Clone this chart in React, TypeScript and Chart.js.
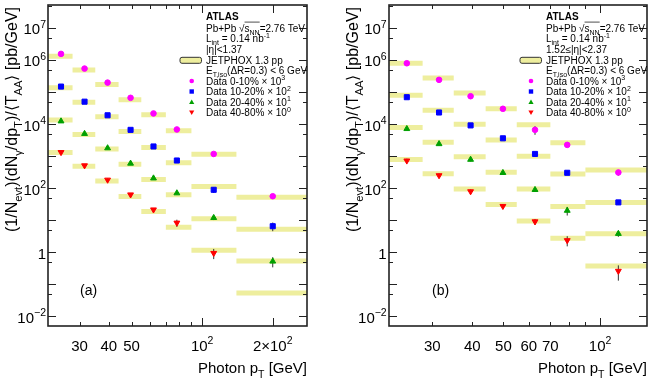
import React, { useEffect, useRef } from "react";
import { Chart, registerables } from "chart.js";
Chart.register(...registerables);

// ---------- Panel (a): |eta| < 1.37 ----------
const edgesA = [22, 28, 35, 44, 55, 70, 90, 140, 280];
const ptA = [25, 31.5, 39.5, 49.5, 62, 78, 112, 200];
const dataA_0_10 = [1.55e6, 5.4e5, 1.97e5, 6.6e4, 2.15e4, 6.8e3, 1170, 56];
const dataA_10_20 = [1.48e5, 5.0e4, 1.88e4, 6.6e3, 2.0e3, 730, 89, 6.5];
const dataA_20_40 = [1.23e4, 5.0e3, 1.78e3, 590, 204, 70, 11.9, 0.52];
const dataA_40_80 = [1320, 510, 182, 63, 21.4, 8.3, 0.94, null];
const errA_0_10 = [0.06, 0.05, 0.05, 0.05, 0.05, 0.06, 0.08, 0.12];
const errA_10_20 = [0.06, 0.06, 0.06, 0.06, 0.06, 0.08, 0.2, 0.3];
const errA_20_40 = [0.08, 0.08, 0.08, 0.08, 0.1, 0.1, 0.15, 0.35];
const errA_40_80 = [0.1, 0.1, 0.1, 0.1, 0.12, 0.25, 0.35, 0];
const jetA_0_10 = [1.3e6, 4.9e5, 1.71e5, 5.7e4, 1.95e4, 6.2e3, 1150, 52];
const jetA_10_20 = [1.35e5, 4.8e4, 1.68e4, 5.9e3, 1860, 620, 112, 5.2];
const jetA_20_40 = [1.35e4, 4.7e3, 1.66e3, 560, 186, 62, 11.1, 0.53];
const jetA_40_80 = [1290, 480, 166, 55, 18.6, 6.0, 1.15, 0.054];

// ---------- Panel (b): 1.52 < |eta| < 2.37 ----------
const edgesB = [22, 28, 35, 44, 55, 70, 90, 140];
const ptB = [25, 31.5, 39.5, 49.8, 62.7, 79, 114];
const dataB_0_10 = [7.9e5, 2.4e5, 7.4e4, 3.0e4, 6.6e3, 2240, 309];
const dataB_10_20 = [6.9e4, 2.3e4, 9.1e3, 3.6e3, 1170, 302, 36];
const dataB_20_40 = [7.1e3, 2.4e3, 780, 302, 89, 20, 3.8];
const dataB_40_80 = [720, 250, 79, 27.5, 9.1, 2.35, 0.26];
const errB_0_10 = [0.1, 0.1, 0.12, 0.08, 0.3, 0.12, 0.2];
const errB_10_20 = [0.1, 0.1, 0.1, 0.08, 0.08, 0.1, 0.15];
const errB_20_40 = [0.1, 0.1, 0.12, 0.1, 0.12, 0.3, 0.2];
const errB_40_80 = [0.15, 0.15, 0.15, 0.15, 0.2, 0.35, 0.5];
const jetB_0_10 = [7.9e5, 2.75e5, 9.3e4, 3.0e4, 9.5e3, 2.6e3, 370];
const jetB_10_20 = [7.9e4, 2.7e4, 9.8e3, 3.2e3, 1.0e3, 275, 36];
const jetB_20_40 = [7.8e3, 2.7e3, 950, 316, 95, 27, 3.8];
const jetB_40_80 = [790, 280, 95, 31, 9.5, 2.75, 0.37];

// ---------- ticks ----------
const yTickValues = [1e-2, 1, 1e2, 1e4, 1e6, 1e7];
const yTickBases = ["10", "1", "10", "10", "10", "10"];
const yTickExps = ["\u22122", "", "2", "4", "6", "7"];
const yMajorTicks = [1e-2, 1e-1, 1, 1e1, 1e2, 1e3, 1e4, 1e5, 1e6, 1e7];
const yMinorTicks = [5e-3, 5e-2, 5e-1, 5, 5e1, 5e2, 5e3, 5e4, 5e5, 5e6, 5e7];

const xTickValuesA = [30, 40, 50, 100, 200];
const xTickBasesA = ["30", "40", "50", "10", "2\u00d710"];
const xTickExpsA = ["", "", "", "2", "2"];
const xMinorA = [30, 40, 50, 60, 70, 80, 90];
const xMajorA = [100, 200];

const xTickValuesB = [30, 40, 50, 60, 70, 100];
const xTickBasesB = ["30", "40", "50", "60", "70", "10"];
const xTickExpsB = ["", "", "", "", "", "2"];
const xMinorB = [30, 40, 50, 60, 70, 80, 90];
const xMajorB = [100];

const seriesNames = ["Data 0-10% \u00d7 10", "Data 10-20% \u00d7 10", "Data 20-40% \u00d7 10", "Data 40-80% \u00d7 10"];
const seriesScales = ["3", "2", "1", "0"];

const COLORS = ["#ff00ff", "#0000ff", "#00a000", "#ff0000"];
const STYLES = ["circle", "rect", "triangle", "triangle"];
const ROTS = [0, 0, 0, 180];
const RADII = [2.8, 3.6, 3.4, 3.4];
const JET_COLOR = "#eeee9e";
const FONT = '"Liberation Sans", Arial, Helvetica, sans-serif';

type Seg = { t: string; s?: "sub" | "sup"; b?: boolean; o?: boolean };

function fnt(size: number, bold = false) {
  return `${bold ? "bold " : ""}${size}px ${FONT}`;
}

function richWidth(ctx: CanvasRenderingContext2D, segs: Seg[], size: number) {
  let w = 0;
  for (const sg of segs) {
    ctx.font = fnt(sg.s ? size * 0.7 : size, sg.b);
    w += ctx.measureText(sg.t).width;
  }
  return w;
}

function drawRich(ctx: CanvasRenderingContext2D, segs: Seg[], x: number, y: number, size: number, align: "left" | "right" | "center") {
  const w = richWidth(ctx, segs, size);
  let cx = align === "left" ? x : align === "right" ? x - w : x - w / 2;
  ctx.textAlign = "left";
  ctx.textBaseline = "alphabetic";
  let oStart: number | null = null;
  for (const sg of segs) {
    const sz = sg.s ? size * 0.7 : size;
    ctx.font = fnt(sz, sg.b);
    const dy = sg.s === "sub" ? size * 0.3 : sg.s === "sup" ? -size * 0.45 : 0;
    ctx.fillText(sg.t, cx, y + dy);
    const sw = ctx.measureText(sg.t).width;
    if (sg.o && oStart === null) oStart = cx;
    if (!sg.o && oStart !== null) {
      ctx.beginPath();
      ctx.lineWidth = 0.8;
      ctx.moveTo(oStart, y - size * 0.95);
      ctx.lineTo(cx, y - size * 0.95);
      ctx.stroke();
      oStart = null;
    }
    cx += sw;
  }
}

type PanelProps = {
  left: number;
  width: number;
  pad: { left: number; right: number; top: number; bottom: number };
  xMin: number;
  xMax: number;
  edges: number[];
  pt: number[];
  data: (number | null)[][];
  err: number[][];
  jet: number[][];
  xTickValues: number[];
  xTickBases: string[];
  xTickExps: string[];
  xMinor: number[];
  xMajor: number[];
  yTitleX: number;
  yLabelRight: number;
  legendBox: number;
  legendMarkerX: number;
  legendTextX: number;
  etaText: Seg[];
  tag: string;
  tagX: number;
};

function Panel(p: PanelProps) {
  const ref = useRef<HTMLCanvasElement | null>(null);
  useEffect(() => {
    if (!ref.current) return;
    const datasets: any[] = [];
    p.data.forEach((vals, s) => {
      datasets.push({
        data: p.pt.map((x, i) => ({ x, y: vals[i] })),
        showLine: false,
        pointStyle: STYLES[s],
        rotation: ROTS[s],
        pointRadius: RADII[s],
        backgroundColor: COLORS[s],
        borderColor: COLORS[s],
        borderWidth: 1,
        order: 0,
      });
      const eb: any[] = [];
      p.pt.forEach((x, i) => {
        const v = vals[i];
        const e = p.err[s][i];
        if (v == null || !e) return;
        eb.push({ x, y: v * (1 - e) }, { x, y: v * (1 + e) }, { x, y: null });
      });
      datasets.push({ data: eb, borderColor: "#333333", borderWidth: 1, pointRadius: 0, order: 1, spanGaps: false, tension: 0 });
      const jb: any[] = [];
      p.jet[s].forEach((v, i) => {
        jb.push({ x: p.edges[i], y: v }, { x: p.edges[i + 1], y: v }, { x: p.edges[i + 1], y: null });
      });
      datasets.push({ data: jb, borderColor: JET_COLOR, borderWidth: 5, borderCapStyle: "butt", pointRadius: 0, order: 2, spanGaps: false, tension: 0 });
    });

    const deco = {
      id: "deco",
      afterDraw(chart: any) {
        const ctx: CanvasRenderingContext2D = chart.ctx;
        const xs = chart.scales.x;
        const ys = chart.scales.y;
        const a = chart.chartArea;
        ctx.save();
        ctx.strokeStyle = "#222";
        ctx.fillStyle = "#000";
        // ticks
        ctx.lineWidth = 1;
        ctx.beginPath();
        for (const v of yMajorTicks) {
          const y = Math.round(ys.getPixelForValue(v)) + 0.5;
          ctx.moveTo(a.left, y); ctx.lineTo(a.left + 8, y);
          ctx.moveTo(a.right, y); ctx.lineTo(a.right - 8, y);
        }
        for (const v of yMinorTicks) {
          const y = Math.round(ys.getPixelForValue(v)) + 0.5;
          if (y < a.top || y > a.bottom) continue;
          ctx.moveTo(a.left, y); ctx.lineTo(a.left + 4, y);
          ctx.moveTo(a.right, y); ctx.lineTo(a.right - 4, y);
        }
        for (const v of p.xMinor) {
          const x = Math.round(xs.getPixelForValue(v)) + 0.5;
          ctx.moveTo(x, a.bottom); ctx.lineTo(x, a.bottom - 4);
          ctx.moveTo(x, a.top); ctx.lineTo(x, a.top + 4);
        }
        for (const v of p.xMajor) {
          const x = Math.round(xs.getPixelForValue(v)) + 0.5;
          ctx.moveTo(x, a.bottom); ctx.lineTo(x, a.bottom - 8);
          ctx.moveTo(x, a.top); ctx.lineTo(x, a.top + 8);
        }
        ctx.stroke();
        // frame
        ctx.lineWidth = 1.6;
        ctx.strokeRect(a.left, a.top, a.right - a.left, a.bottom - a.top);

        // y tick labels
        yTickValues.forEach((v, i) => {
          const y = ys.getPixelForValue(v);
          const segs: Seg[] = [{ t: yTickBases[i] }];
          if (yTickExps[i]) segs.push({ t: yTickExps[i], s: "sup" });
          drawRich(ctx, segs, p.yLabelRight, y + 6.5, 15, "right");
        });
        // x tick labels
        p.xTickValues.forEach((v, i) => {
          const x = xs.getPixelForValue(v);
          const segs: Seg[] = [{ t: p.xTickBases[i] }];
          if (p.xTickExps[i]) segs.push({ t: p.xTickExps[i], s: "sup" });
          drawRich(ctx, segs, x, 351, 15, "center");
        });
        // x title
        drawRich(ctx, [{ t: "Photon p" }, { t: "T", s: "sub" }, { t: " [GeV]" }], a.right, 373, 15, "right");
        // y title
        ctx.save();
        ctx.translate(p.yTitleX, 7);
        ctx.rotate(-Math.PI / 2);
        drawRich(
          ctx,
          [
            { t: "(1/N" }, { t: "evt", s: "sub" }, { t: ")(dN" }, { t: "\u03b3", s: "sub" },
            { t: "/dp" }, { t: "T", s: "sub" }, { t: ")/\u27e8T" }, { t: "AA", s: "sub" },
            { t: "\u27e9 [pb/GeV]" },
          ],
          0, 0, 16, "right"
        );
        ctx.restore();
        // tag
        drawRich(ctx, [{ t: p.tag }], p.tagX, 295, 14, "left");

        // legend text
        const tx = p.legendTextX;
        const lines: Seg[][] = [
          [{ t: "ATLAS", b: true }],
          [{ t: "Pb+Pb \u221a" }, { t: "s", o: true }, { t: "NN", s: "sub", o: true }, { t: "=2.76 TeV" }],
          [{ t: "L" }, { t: "int", s: "sub" }, { t: " = 0.14 nb" }, { t: "-1", s: "sup" }],
          p.etaText,
          [{ t: "JETPHOX 1.3 pp" }],
          [{ t: "E" }, { t: "T,iso", s: "sub" }, { t: "(\u0394R=0.3) < 6 GeV" }],
        ];
        const lineY = [16, 28, 38.5, 49.3, 60, 70.7, 81, 91.5, 102, 112.5];
        lines.forEach((segs, i) => drawRich(ctx, segs, tx, lineY[i] + 3.6, 10, "left"));
        seriesNames.forEach((n, i) => {
          drawRich(ctx, [{ t: n }, { t: seriesScales[i], s: "sup" }], tx, lineY[6 + i] + 3.6, 10, "left");
        });
        // legend JETPHOX box
        ctx.fillStyle = JET_COLOR;
        ctx.strokeStyle = "#333";
        ctx.lineWidth = 1;
        ctx.beginPath();
        const bx0 = p.legendBox, bx1 = p.legendBox + 21.5;
        const by0 = 57.3, by1 = 63.3;
        if ((ctx as any).roundRect) (ctx as any).roundRect(bx0, by0, bx1 - bx0, by1 - by0, 2);
        else ctx.rect(bx0, by0, bx1 - bx0, by1 - by0);
        ctx.fill();
        ctx.stroke();
        // legend markers
        for (let i = 0; i < 4; i++) {
          const mx = p.legendMarkerX, my = lineY[6 + i];
          ctx.fillStyle = COLORS[i];
          ctx.beginPath();
          if (i === 0) ctx.arc(mx, my, 2.3, 0, Math.PI * 2);
          else if (i === 1) ctx.rect(mx - 2.2, my - 2.2, 4.4, 4.4);
          else if (i === 2) { ctx.moveTo(mx, my - 2.6); ctx.lineTo(mx + 2.6, my + 2); ctx.lineTo(mx - 2.6, my + 2); ctx.closePath(); }
          else { ctx.moveTo(mx, my + 2.6); ctx.lineTo(mx + 2.6, my - 2); ctx.lineTo(mx - 2.6, my - 2); ctx.closePath(); }
          ctx.fill();
        }
        ctx.restore();
      },
    };

    const chart = new Chart(ref.current, {
      type: "line",
      data: { datasets },
      options: {
        animation: false,
        responsive: true,
        maintainAspectRatio: false,
        events: [],
        layout: { padding: p.pad },
        plugins: { legend: { display: false }, tooltip: { enabled: false } },
        scales: {
          x: { type: "logarithmic", min: p.xMin, max: p.xMax, display: false },
          y: { type: "logarithmic", min: 0.005, max: 5.2e7, display: false },
        },
      } as any,
      plugins: [deco as any],
    });
    return () => chart.destroy();
  }, []);
  return (
    <div style={{ position: "absolute", left: p.left, top: 0, width: p.width, height: 381 }}>
      <canvas ref={ref} />
    </div>
  );
}

export default function App() {
  return (
    <div style={{ position: "fixed", left: 0, top: 0, width: 653, height: 381, background: "#fff" }}>
      <Panel
        left={0}
        width={326}
        pad={{ left: 48, right: 19, top: 4, bottom: 55 }}
        xMin={22}
        xMax={280}
        edges={edgesA}
        pt={ptA}
        data={[dataA_0_10, dataA_10_20, dataA_20_40, dataA_40_80]}
        err={[errA_0_10, errA_10_20, errA_20_40, errA_40_80]}
        jet={[jetA_0_10, jetA_10_20, jetA_20_40, jetA_40_80]}
        xTickValues={xTickValuesA}
        xTickBases={xTickBasesA}
        xTickExps={xTickExpsA}
        xMinor={xMinorA}
        xMajor={xMajorA}
        yTitleX={17}
        yLabelRight={46}
        legendBox={180}
        legendMarkerX={191.7}
        legendTextX={206}
        etaText={[{ t: "|\u03b7|<1.37" }]}
        tag="(a)"
        tagX={80}
      />
      <Panel
        left={326}
        width={327}
        pad={{ left: 63, right: 6, top: 4, bottom: 55 }}
        xMin={22}
        xMax={140}
        edges={edgesB}
        pt={ptB}
        data={[dataB_0_10, dataB_10_20, dataB_20_40, dataB_40_80]}
        err={[errB_0_10, errB_10_20, errB_20_40, errB_40_80]}
        jet={[jetB_0_10, jetB_10_20, jetB_20_40, jetB_40_80]}
        xTickValues={xTickValuesB}
        xTickBases={xTickBasesB}
        xTickExps={xTickExpsB}
        xMinor={xMinorB}
        xMajor={xMajorB}
        yTitleX={32}
        yLabelRight={60.7}
        legendBox={194}
        legendMarkerX={205}
        legendTextX={220}
        etaText={[{ t: "1.52\u2264|\u03b7|<2.37" }]}
        tag="(b)"
        tagX={106}
      />
    </div>
  );
}
